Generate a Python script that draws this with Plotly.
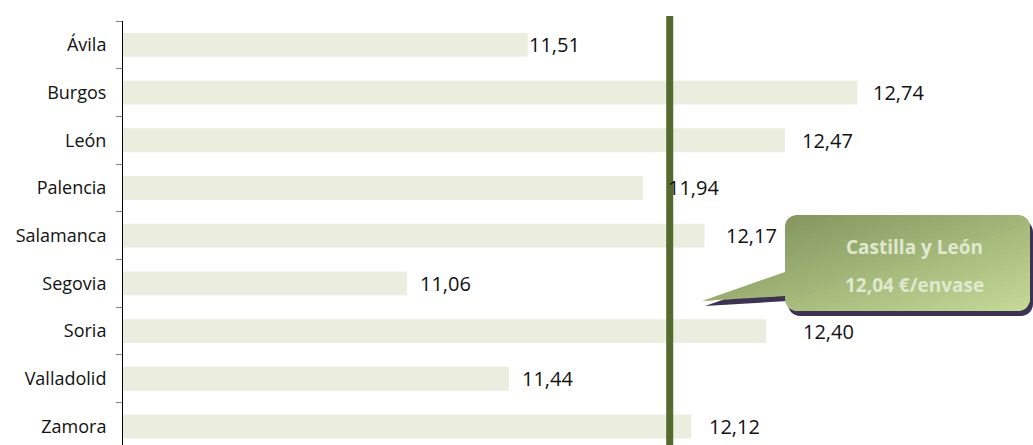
import plotly.graph_objects as go
import math

# ---- data ----
provinces = ["Ávila", "Burgos", "León", "Palencia", "Salamanca",
             "Segovia", "Soria", "Valladolid", "Zamora"]
prices = [11.51, 12.74, 12.47, 11.94, 12.17, 11.06, 12.40, 11.44, 12.12]
region_name = "Castilla y León"
region_avg = 12.04
region_unit = "€/envase"

# ---- styling ----
label_xshift = [-1, 14, 15, 23, 19, 11, 35, 11, 16]   # pixel nudges of value labels
FIG_W, FIG_H = 1033, 445
M_L, M_R, M_T, M_B = 123, 0, 21, 0
PW, PH = FIG_W - M_L - M_R, FIG_H - M_T - M_B
X_MIN = 10
X_MAX = X_MIN + PW / 268.0
CAT_PX = 47.7
Y_TOP = -0.5
Y_BOT = Y_TOP + PH / CAT_PX

BAR_COLOR = "#EBEEDF"
LINE_COLOR = "#546A2E"
FONT = "Open Sans"


def fmt(v):
    return f"{v:.2f}".replace(".", ",")


fig = go.Figure()
fig.add_trace(go.Bar(
    x=prices, y=provinces, orientation="h",
    marker=dict(color=BAR_COLOR, line=dict(width=0)),
    width=0.5, hoverinfo="skip", showlegend=False,
))

annotations = []
for p, v, dx in zip(provinces, prices, label_xshift):
    annotations.append(dict(
        x=v, y=p, xref="x", yref="y", text=fmt(v), showarrow=False,
        xanchor="left", yanchor="middle", xshift=dx,
        font=dict(family=FONT, size=20, color="#111111"),
    ))

# ---- callout (pixel geometry -> paper coordinates) ----
def px(x):
    return (x - M_L) / PW


def py(y):
    return 1 - (y - M_T) / PH


def arc(cx, cy, r, a0, a1, n=8):
    pts = []
    for i in range(n + 1):
        a = math.radians(a0 + (a1 - a0) * i / n)
        pts.append((cx + r * math.cos(a), cy + r * math.sin(a)))
    return pts


bx0, bx1, by0, by1, rr = 785, 1030, 215, 311, 12
tip = (702, 301)
base_top, base_bot = 272, 296
poly = []
poly += arc(bx0 + rr, by0 + rr, rr, 180, 270)
poly += arc(bx1 - rr, by0 + rr, rr, 270, 360)
poly += arc(bx1 - rr, by1 - rr, rr, 0, 90)
poly += arc(bx0 + rr, by1 - rr, rr, 90, 180)
poly += [(bx0, base_bot), tip, (bx0, base_top)]


def to_path(pts, dx=0, dy=0):
    s = "M " + " L ".join(f"{px(x + dx):.5f},{py(y + dy):.5f}" for x, y in pts)
    return s + " Z"


def clip(pts, f):
    out = []
    n = len(pts)
    for i in range(n):
        a, b = pts[i], pts[(i + 1) % n]
        fa, fb = f(a), f(b)
        if fa >= 0:
            out.append(a)
        if (fa >= 0) != (fb >= 0):
            t = fa / (fa - fb)
            out.append((a[0] + t * (b[0] - a[0]), a[1] + t * (b[1] - a[1])))
    return out


def tval(p):
    return 0.45 * (p[0] - bx0) / (bx1 - bx0) + 0.55 * (p[1] - by0) / (by1 - by0)


c0 = (0x84, 0x96, 0x5E)
c1 = (0xC5, 0xDB, 0x97)

shapes = [
    dict(type="line", xref="x", yref="paper", x0=region_avg, x1=region_avg,
         y0=0, y1=1 + 5 / PH, line=dict(color=LINE_COLOR, width=7), layer="above"),
    dict(type="path", xref="paper", yref="paper", path=to_path(poly, 3, 5),
         fillcolor="#3E3252", line=dict(width=0), layer="above"),
]
N = 32
for k in range(N):
    lo = k / N if k > 0 else -5
    hi = (k + 1) / N + 0.012 if k < N - 1 else 5
    band = clip(poly, lambda p, lo=lo: tval(p) - lo)
    band = clip(band, lambda p, hi=hi: hi - tval(p))
    if len(band) < 3:
        continue
    t = (k + 0.5) / N
    col = tuple(round(c0[i] + (c1[i] - c0[i]) * t) for i in range(3))
    shapes.append(dict(type="path", xref="paper", yref="paper", path=to_path(band),
                       fillcolor="rgb(%d,%d,%d)" % col, line=dict(width=0), layer="above"))

cx = px(914)
annotations.append(dict(
    x=cx, y=py(247), xref="paper", yref="paper", showarrow=False,
    text=f"<b>{region_name}</b>", xanchor="center", yanchor="middle",
    font=dict(family=FONT, size=19, color="#E0E8CF"),
))
annotations.append(dict(
    x=cx, y=py(285), xref="paper", yref="paper", showarrow=False,
    text=f"<b>{fmt(region_avg)} {region_unit}</b>", xanchor="center", yanchor="middle",
    font=dict(family=FONT, size=19, color="#E0E8CF"),
))

fig.update_layout(
    width=FIG_W, height=FIG_H,
    margin=dict(l=M_L, r=M_R, t=M_T, b=M_B, pad=0, autoexpand=False),
    paper_bgcolor="white", plot_bgcolor="white",
    bargap=0.5,
    xaxis=dict(range=[X_MIN, X_MAX], visible=False, showgrid=False, zeroline=False),
    yaxis=dict(
        type="category", categoryorder="array", categoryarray=provinces,
        range=[Y_BOT, Y_TOP], showgrid=False, zeroline=False,
        showline=True, linecolor="black", linewidth=1,
        ticks="outside", ticklen=6, tickwidth=1, tickcolor="#808080",
        tickson="boundaries", ticklabelstandoff=12,
        tickfont=dict(family=FONT, size=18, color="#111111"),
    ),
    shapes=shapes,
    annotations=annotations,
)

fig.write_html("out.html",
               config={"displayModeBar": False},
               post_script="document.body.style.margin='0';document.body.style.overflow='hidden';")
